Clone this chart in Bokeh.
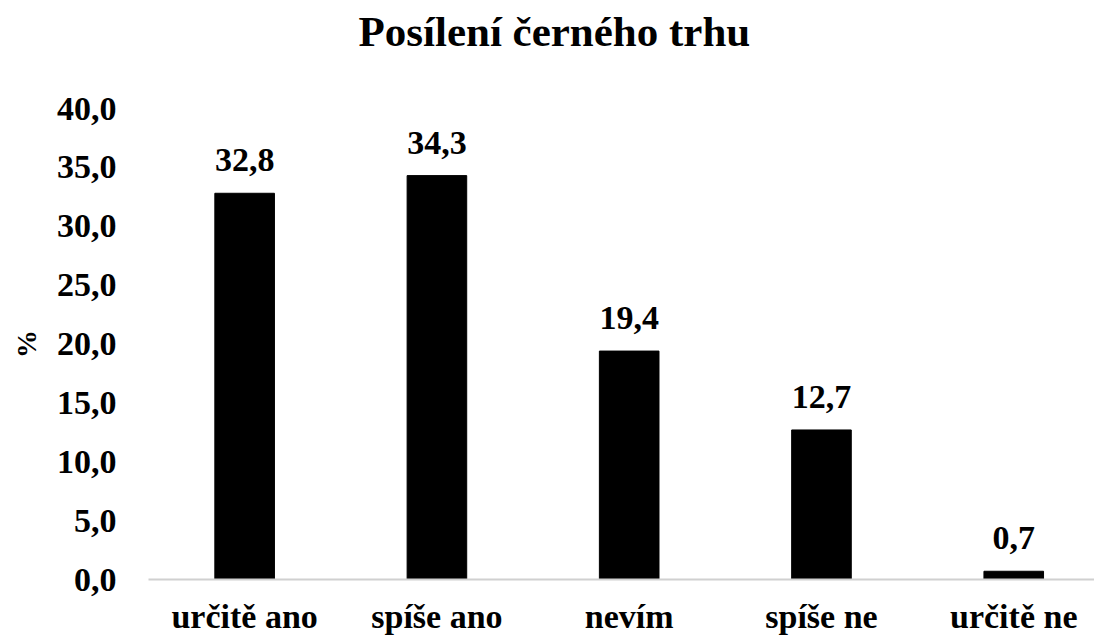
from bokeh.plotting import figure
from bokeh.models import Range1d, FixedTicker, CustomJSTickFormatter, Title, ColumnDataSource
from bokeh.core.properties import value
from bokeh.embed import file_html
from bokeh.resources import INLINE

categories = ["určitě ano", "spíše ano", "nevím", "spíše ne", "určitě ne"]
values = [32.8, 34.3, 19.4, 12.7, 0.7]
y_ticks = [0, 5, 10, 15, 20, 25, 30, 35, 40]
title_text = "Posílení černého trhu"
y_label = "%"

FONT = "Liberation Serif"

xs = [i + 0.5 for i in range(len(categories))]
labels = [f"{v:.1f}".replace(".", ",") for v in values]
src = ColumnDataSource(dict(x=xs, top=values, label=labels))

p = figure(width=1094, height=637, output_backend="svg", toolbar_location=None,
           x_range=Range1d(0, 4.92), y_range=Range1d(0, 40),
           min_border_left=148, min_border_right=0, min_border_top=108,
           min_border_bottom=55)
p.outline_line_color = None
p.grid.grid_line_color = None
p.background_fill_color = "white"
p.border_fill_color = "white"

p.vbar(x="x", top="top", width=0.31, bottom=0, source=src, color="black")
p.text(x="x", y="top", text="label", source=src, text_align="center",
       text_baseline="bottom", y_offset=-22, text_font=value(FONT),
       text_font_style="bold", text_font_size="34px", text_color="black")

# x axis
xa = p.xaxis[0]
xa.ticker = FixedTicker(ticks=xs)
xa.major_label_overrides = {x: c for x, c in zip(xs, categories)}
xa.major_tick_line_color = None
xa.minor_tick_line_color = None
xa.axis_line_color = "#d0d0d0"
xa.axis_line_width = 2
xa.major_label_text_font = FONT
xa.major_label_text_font_style = "bold"
xa.major_label_text_font_size = "34px"
xa.major_label_text_line_height = 0.9
xa.major_label_text_color = "black"
xa.major_label_standoff = 12

# y axis
ya = p.yaxis[0]
ya.ticker = FixedTicker(ticks=y_ticks)
ya.formatter = CustomJSTickFormatter(code="return tick.toFixed(1).replace('.', ',');")
ya.major_tick_line_color = None
ya.minor_tick_line_color = None
ya.axis_line_color = None
ya.major_label_text_font = FONT
ya.major_label_text_font_style = "bold"
ya.major_label_text_font_size = "34px"
ya.major_label_text_color = "black"
ya.major_label_standoff = 26
ya.axis_label = y_label
ya.axis_label_text_font = FONT
ya.axis_label_text_font_style = "bold"
ya.axis_label_text_font_size = "28px"
ya.axis_label_text_color = "black"
ya.axis_label_standoff = 12

# invisible spacer panel between the frame and the title
spacer = Title(text=" ", text_font_size="2px", standoff=50, text_color="white")
p.add_layout(spacer, "above")
title = Title(text=title_text, text_font=FONT, text_font_style="bold",
              text_font_size="43px", text_color="black", align="left",
              offset=210, standoff=0)
p.add_layout(title, "above")

open("out.html", "w").write(file_html(p, INLINE))
